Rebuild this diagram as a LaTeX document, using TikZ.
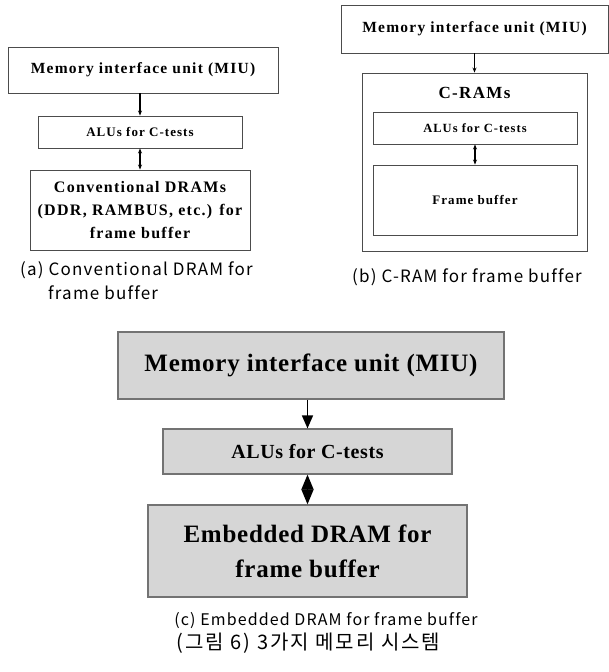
\documentclass[tikz,border=0pt]{standalone}
\usepackage{fontspec}
\setmainfont{Liberation Serif}
\newfontfamily\widefont[LetterSpace=8]{Liberation Serif}
\newfontfamily\bigfont[LetterSpace=3]{Liberation Serif}
\newfontfamily\capfont[LetterSpace=7, Ligatures=NoCommon]{Noto Sans CJK KR}
\newfontfamily\korfont[LetterSpace=10]{Noto Sans CJK KR}
\usepackage{tikz}
\usetikzlibrary{positioning}
\usetikzlibrary{arrows.meta}
\definecolor{edgedark}{gray}{0.3}
\definecolor{edgegray}{gray}{0.45}
\definecolor{boxgray}{gray}{0.84}

\begin{document}
\begin{tikzpicture}[x=1pt, y=-1pt,
    plainbox/.style={draw=edgedark, line width=0.9pt, inner sep=0pt, align=center, font=\widefont\bfseries},
    greybox/.style={draw=edgegray, fill=boxgray, line width=1.2pt, inner sep=0pt, align=center, font=\bigfont\bfseries\fontsize{25}{35}\selectfont},
    thinarrow/.style={line width=1.1pt, -{Stealth[length=5pt, width=4pt]}},
    thinboth/.style={line width=1.1pt, {Stealth[length=5pt, width=4pt]}-{Stealth[length=5pt, width=4pt]}},
    caption/.style={font=\capfont\fontsize{17}{20}\selectfont, inner sep=0pt}]

                \useasboundingbox (0,0) rectangle (609,672);

                % Nodes (a)
                \node at (143,70) (miuA) [plainbox, minimum width=270, minimum height=46, font=\widefont\bfseries\fontsize{15.5}{18}\selectfont] {Memory interface unit (MIU)};
                \node at (140,132) (aluA) [plainbox, minimum width=204, minimum height=32, font=\widefont\bfseries\fontsize{13}{15}\selectfont] {ALUs for C-tests};
                \node at (140,210) (dramA) [plainbox, minimum width=220, minimum height=80, font=\widefont\bfseries\fontsize{16}{23}\selectfont] {Conventional DRAMs\\(DDR, RAMBUS, etc.) for\\frame buffer};
                \node at (20,270) (capA) [caption, anchor=west] {(a) Conventional DRAM for};
                \node at (48,293) (capA2) [caption, anchor=west] {frame buffer};

                % Nodes (b)
                \node at (474.5,29) (miuB) [plainbox, minimum width=267, minimum height=48, font=\widefont\bfseries\fontsize{15.5}{18}\selectfont] {Memory interface unit (MIU)};
                \node at (474.5,162) (cramB) [plainbox, minimum width=225, minimum height=178] {};
                \node at (474.5,93) (cramlabel) [font=\widefont\bfseries\fontsize{17}{20}\selectfont, inner sep=0pt] {C-RAMs};
                \node at (475,128) (aluB) [plainbox, minimum width=204, minimum height=32, font=\widefont\bfseries\fontsize{12.5}{15}\selectfont] {ALUs for C-tests};
                \node at (475,200) (fbB) [plainbox, minimum width=204, minimum height=70, font=\widefont\bfseries\fontsize{13}{15}\selectfont] {Frame buffer};
                \node at (467,277) (capB) [caption] {(b) C-RAM for frame buffer};

                % Nodes (c)
                \node at (311,365.5) (miuC) [greybox, minimum width=386, minimum height=67] {Memory interface unit (MIU)};
                \node at (307.5,451.5) (aluC) [greybox, minimum width=289, minimum height=45, font=\bigfont\bfseries\fontsize{20}{24}\selectfont] {ALUs for C-tests};
                \node at (307.5,551) (edramC) [greybox, minimum width=319, minimum height=92] {Embedded DRAM for\\frame buffer};
                \node at (326,621) (capC) [caption, font=\capfont\fontsize{16}{20}\selectfont] {(c) Embedded DRAM for frame buffer};
                \node at (308.5,643) (capK) [caption, font=\korfont\fontsize{20}{22}\selectfont] {(그림 6) 3가지 메모리 시스템};

                % Arrows
                \draw[thinarrow] (miuA.south -| aluA.north) -- (aluA.north);
                \draw[thinboth] (aluA) -- (dramA);
                \draw[thinarrow] (miuB.south -| cramB.north) -- (cramB.north);
                \draw[thinboth] (aluB) -- (fbB);
                \draw[line width=1.6pt, -{Triangle[length=13pt, width=11pt]}] (miuC.south -| aluC.north) -- (aluC.north);
                \draw[line width=1.6pt, {Triangle[length=15pt, width=12pt]}-{Triangle[length=15pt, width=12pt]}] (aluC) -- (edramC);
            \end{tikzpicture}
\end{document}
